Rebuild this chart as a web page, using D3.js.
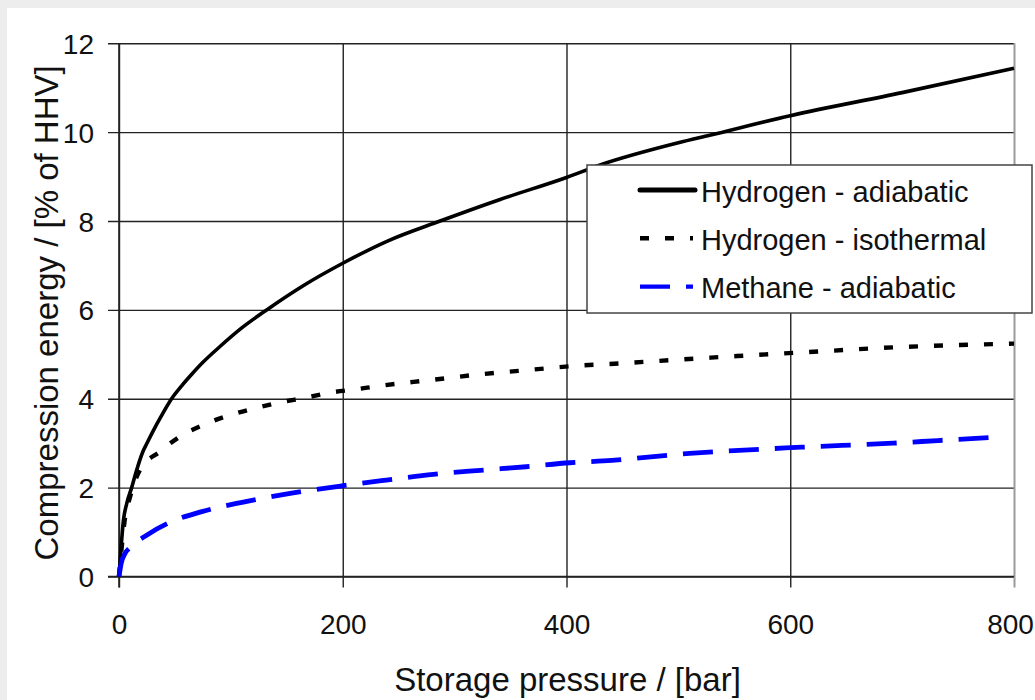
<!DOCTYPE html>
<html>
<head>
<meta charset="utf-8">
<script src="https://cdn.jsdelivr.net/npm/d3@7"></script>
<style>
  html, body { margin: 0; padding: 0; background: #fff; }
  svg { display: block; }
  text { font-family: "Liberation Sans", Arial, Helvetica, sans-serif; fill: #111; }
</style>
</head>
<body>
<svg id="chart" width="1035" height="700"></svg>
<script>
// Compression energy as share of HHV vs. storage pressure
const xTicks = [0, 200, 400, 600, 800];
const yTicks = [0, 2, 4, 6, 8, 10, 12];

const h2AdiabaticP = [0, 1.5, 4, 7, 11.3, 15, 21.5, 25, 30, 38, 47, 56, 65, 75, 90, 110, 132, 165, 200, 240, 287, 340, 400, 430, 500, 528, 600, 700, 800];
const h2AdiabaticE = [0, 0.53, 1.27, 1.65, 2.0, 2.33, 2.82, 3.0, 3.25, 3.62, 4.0, 4.29, 4.55, 4.82, 5.17, 5.6, 6.0, 6.55, 7.05, 7.55, 8.0, 8.48, 8.98, 9.26, 9.76, 9.93, 10.37, 10.89, 11.44];

const h2IsothermalP = [0, 2, 5, 10, 18.8, 36.6, 54.5, 77, 99, 122, 144, 166, 189, 211, 233, 278, 323, 367, 414, 436, 525, 615, 704, 800];
const h2IsothermalE = [0, 0.55, 1.25, 1.8, 2.4, 2.81, 3.15, 3.43, 3.63, 3.79, 3.92, 4.02, 4.14, 4.21, 4.29, 4.42, 4.55, 4.65, 4.75, 4.78, 4.92, 5.05, 5.17, 5.24];

const ch4AdiabaticP = [0, 2, 5.4, 9.8, 24.7, 45.6, 74, 110, 153, 199, 239, 281, 323, 364, 403, 433, 510, 610, 692, 732, 787];
const ch4AdiabaticE = [0, 0.3, 0.52, 0.65, 0.93, 1.22, 1.46, 1.67, 1.87, 2.04, 2.17, 2.30, 2.39, 2.47, 2.56, 2.6, 2.77, 2.91, 3.0, 3.06, 3.14];

const seriesNames = ["Hydrogen - adiabatic", "Hydrogen - isothermal", "Methane - adiabatic"];

const series = [
  { name: seriesNames[0], p: h2AdiabaticP, e: h2AdiabaticE, color: "#000", width: 3.6, dash: null },
  { name: seriesNames[1], p: h2IsothermalP, e: h2IsothermalE, color: "#000", width: 4.4, dash: "9,16" },
  { name: seriesNames[2], p: ch4AdiabaticP, e: ch4AdiabaticE, color: "#0000ff", width: 4.8, dash: "30,16" }
];

const svg = d3.select("#chart");
const W = 1035, H = 700;

// page frame
svg.append("rect").attr("width", W).attr("height", H).attr("fill", "#ededed");
svg.append("rect").attr("x", 7).attr("y", 8).attr("width", W - 7).attr("height", H - 8).attr("fill", "#fff");

const x = d3.scaleLinear().domain([0, 800]).range([119, 1014]);
const y = d3.scaleLinear().domain([0, 12]).range([576.5, 43.3]);

const gridColor = "#222";

// horizontal gridlines + y ticks
const yAxis = svg.append("g")
  .attr("transform", `translate(${x(0)},0)`)
  .call(d3.axisLeft(y).tickValues(yTicks).tickFormat(d3.format("d")).tickSize(0).tickPadding(0));
yAxis.select(".domain").remove();
yAxis.selectAll(".tick line")
  .attr("x1", -11).attr("x2", x(800) - x(0))
  .attr("stroke", gridColor).attr("stroke-width", 1.4);
yAxis.selectAll(".tick text")
  .attr("x", -25).attr("dy", "0.36em")
  .attr("font-size", 28).attr("text-anchor", "end");

// vertical gridlines + x ticks
const xAxis = svg.append("g")
  .attr("transform", `translate(0,${y(0)})`)
  .call(d3.axisBottom(x).tickValues(xTicks).tickFormat(d3.format("d")).tickSize(0).tickPadding(0));
xAxis.select(".domain").remove();
xAxis.selectAll(".tick line")
  .attr("y1", 11).attr("y2", y(12) - y(0))
  .attr("stroke", d => d === 800 ? "#9a9a9a" : gridColor)
  .attr("stroke-width", d => d === 800 ? 2 : 1.4);
xAxis.selectAll(".tick text")
  .attr("y", 57).attr("dy", 0)
  .attr("x", d => d === 800 ? -4 : 0)
  .attr("font-size", 28).attr("text-anchor", "middle");

// axis lines on top of gridlines
svg.append("line").attr("x1", x(0)).attr("x2", x(0)).attr("y1", y(12)).attr("y2", y(0) + 11)
  .attr("stroke", gridColor).attr("stroke-width", 1.6);
svg.append("line").attr("x1", x(0) - 11).attr("x2", x(800)).attr("y1", y(0)).attr("y2", y(0))
  .attr("stroke", gridColor).attr("stroke-width", 1.6);

// axis titles
svg.append("text")
  .attr("x", x(400) + 1).attr("y", 691)
  .attr("text-anchor", "middle").attr("font-size", 33)
  .text("Storage pressure / [bar]");
svg.append("text")
  .attr("transform", `translate(58,${(y(0) + y(12)) / 2 + 3}) rotate(-90)`)
  .attr("text-anchor", "middle").attr("font-size", 33)
  .text("Compression energy / [% of HHV]");

// curves
const line = d3.line()
  .x(d => x(d[0]))
  .y(d => y(d[1]))
  .curve(d3.curveMonotoneX);

series.forEach(s => {
  const pts = s.p.map((p, i) => [p, s.e[i]]);
  svg.append("path")
    .datum(pts)
    .attr("d", line)
    .attr("fill", "none")
    .attr("stroke", s.color)
    .attr("stroke-width", s.width)
    .attr("stroke-dasharray", s.dash)
    .attr("stroke-linejoin", "round");
});

// legend
const lg = svg.append("g");
lg.append("rect")
  .attr("x", 587).attr("y", 165).attr("width", 445).attr("height", 148)
  .attr("fill", "#fff").attr("stroke", "#444").attr("stroke-width", 1.5);
series.forEach((s, i) => {
  const cy = 190 + i * 48.3;
  lg.append("line")
    .attr("x1", 640).attr("x2", s.dash ? 693 : 695)
    .attr("y1", cy).attr("y2", cy)
    .attr("stroke", s.color)
    .attr("stroke-width", s.dash ? 4.4 : 5)
    .attr("stroke-linecap", s.dash ? "butt" : "round")
    .attr("stroke-dasharray", s.dash);
  lg.append("text")
    .attr("x", 701).attr("y", cy + 11.5)
    .attr("font-size", 29)
    .text(s.name);
});
</script>
</body>
</html>
